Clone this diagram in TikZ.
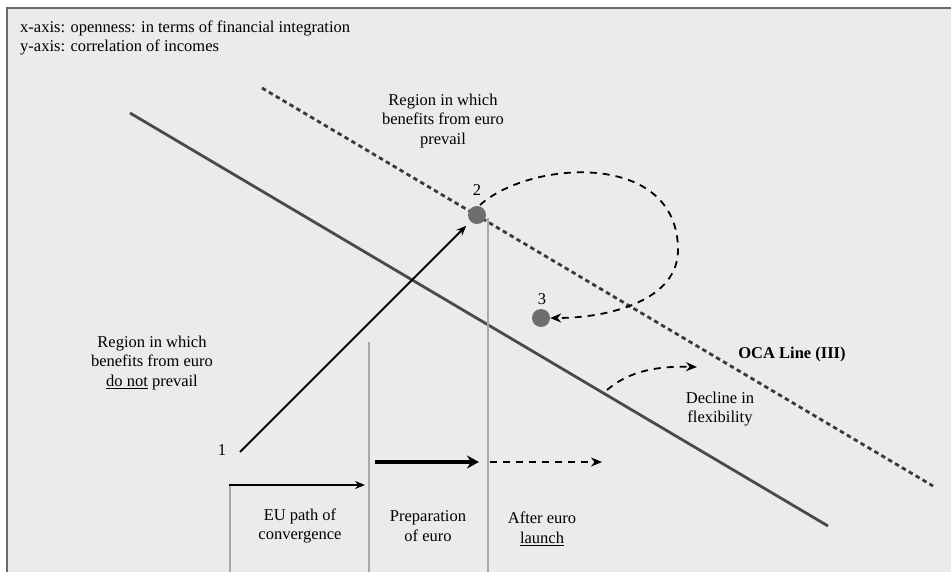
\documentclass[tikz,border=0pt]{standalone}
\usepackage{fontspec}
\setmainfont{Liberation Serif}
\usetikzlibrary{arrows.meta}
\definecolor{bgc}{HTML}{EBEBEB}
\definecolor{framec}{HTML}{6A6A6A}
\definecolor{linec}{HTML}{4A4A4A}
\definecolor{ocac}{HTML}{3A3A3A}
\definecolor{dotc}{HTML}{6E6E6E}
\definecolor{vgray}{HTML}{A8A8A8}
\tikzset{
  txt/.style={font=\fontsize{16.5}{19.5}\selectfont, align=center, inner sep=0pt, text=black},
  dot/.style={circle, fill=dotc, minimum size=18pt, inner sep=0pt},
  mainline/.style={draw=linec, line width=2.8pt},
  ocaline/.style={draw=ocac, line width=2.8pt, dash pattern=on 4.5pt off 3.5pt},
  vline/.style={draw=vgray, line width=2pt},
  arr/.style={draw=black, line width=1.8pt, -{Stealth[length=10pt,width=8pt]}},
  bigarr/.style={draw=black, line width=4pt, -{Stealth[length=12pt,width=13pt]}},
  darr/.style={draw=black, line width=1.8pt, dash pattern=on 7pt off 6pt, -{Stealth[length=11pt,width=9pt]}},
}
\begin{document}
\begin{tikzpicture}[x=1pt,y=-1pt]
\useasboundingbox (0,0) rectangle (951,572);
\fill[white] (0,0) rectangle (951,572);
\fill[bgc] (7,8) rectangle (951,572);
\draw[framec, line width=2pt] (7,572) -- (7,8) -- (951,8);

% axes description
\node[txt, anchor=base west] (xax) at (20,33) {x-axis: openness: in terms of financial integration};
\node[txt, anchor=base west] (yax) at (20,52) {y-axis: correlation of incomes};

% lines
\coordinate (sA) at (130,113);
\coordinate (sB) at (828,526);
\coordinate (oA) at (262,88);
\coordinate (oB) at (933,486);
\draw[mainline] (sA) -- (sB);
\draw[ocaline] (oA) -- (oB);

% vertical gray lines
\coordinate (v1t) at (230,485);
\coordinate (v1b) at (230,572);
\coordinate (v2t) at (369,342);
\coordinate (v2b) at (369,572);
\coordinate (v3t) at (488,218);
\coordinate (v3b) at (488,572);
\draw[vline] (v1t) -- (v1b);
\draw[vline] (v2t) -- (v2b);
\draw[vline] (v3t) -- (v3b);

% points
\node[dot] (p2) at (477,215) {};
\node[dot] (p3) at (541,318) {};
\node[txt] (l2) at (477,190) {2};
\node[txt] (l3) at (542,299) {3};
\node[txt] (l1) at (222,450) {1};
\coordinate (c1) at (240,452);
\draw[arr, shorten >=6pt] (c1) -- (p2);

% loop from 2 to 3
\coordinate (lp0) at (480,205);
\coordinate (lpR) at (678,250);
\draw[darr] (lp0) .. controls (530,160) and (678,150) .. (lpR)
  .. controls (678,300) and (610,318) .. (p3.east);

% decline arrow
\coordinate (d0) at (607,390);
\coordinate (d1) at (697,367);
\draw[darr] (d0) .. controls (630,370) and (660,366) .. (d1);

% bottom arrows
\coordinate (e0) at (229,485);
\coordinate (e1) at (365,485);
\draw[arr, line width=2.6pt] (e0) -- (e1);
\coordinate (f0) at (375,462);
\coordinate (f1) at (479,462);
\draw[bigarr] (f0) -- (f1);
\coordinate (g0) at (490,462);
\coordinate (g1) at (602,462);
\draw[darr] (g0) -- (g1);

% texts
\node[txt] (rtop) at (443,121) {Region in which\\benefits from euro\\prevail};
\node[txt] (rbot) at (152,363) {Region in which\\benefits from euro\\\underline{do not} prevail};
\node[txt] (eu) at (300,526) {EU path of\\convergence};
\node[txt] (prep) at (428,526) {Preparation\\of euro};
\node[txt] (after) at (542,529) {After euro\\\underline{launch}};
\node[txt, font=\fontsize{16.5}{19.5}\selectfont\bfseries] (oca) at (792,355) {OCA Line (III)};
\node[txt] (decl) at (720,409) {Decline in\\flexibility};
\end{tikzpicture}
\end{document}
